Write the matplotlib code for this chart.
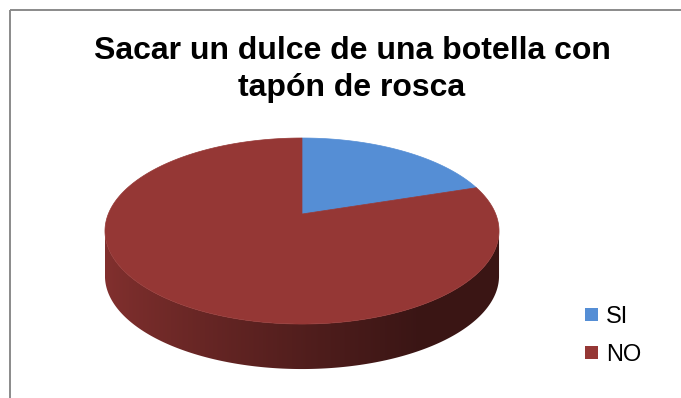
import numpy as np
import matplotlib
matplotlib.use('Agg')
import matplotlib.pyplot as plt
from matplotlib.patches import Polygon, Rectangle
from matplotlib.colors import to_rgb

plt.rcParams['font.family'] = ['Liberation Sans', 'DejaVu Sans']

# datos de la encuesta
titulo = ['Sacar un dulce de una botella con', 'tapón de rosca']
etiquetas = ['SI', 'NO']
valores = [20, 80]
colores = ['#558ED5', '#953735']

W, H = 681, 398
fig = plt.figure(figsize=(W / 100, H / 100), dpi=100)
ax = fig.add_axes([0, 0, 1, 1])
ax.set_xlim(0, W)
ax.set_ylim(H, 0)
ax.axis('off')

# pastel 3D en perspectiva (coordenadas en pixeles)
cx, cy = 302, 214
A, C, K = 193.7, 89.9, 0.183
grosor = 45


def borde(phi):
    r = np.radians(phi)
    w = 1 + K * np.sin(r)
    return cx + A * np.cos(r) / w, cy - C * np.sin(r) / w


total = float(sum(valores))
frac_acum = np.cumsum(valores) / total


def sector_de(phi):
    a = ((90 - phi) % 360) / 360.0
    return int(np.clip(np.searchsorted(frac_acum, a, side='right'), 0, len(valores) - 1))


# pared lateral visible (mitad frontal)
lim = np.degrees(np.arcsin(K))
phis = np.linspace(180 + lim, 360 - lim, 600)
xs, ys = borde(phis)
contorno = np.vstack([np.column_stack([xs, ys]),
                      np.column_stack([xs[::-1], ys[::-1] + grosor])])
pared = Polygon(contorno, closed=True, facecolor='none', edgecolor='none')
ax.add_patch(pared)

# degradado horizontal recortado a la pared
xcol = np.linspace(xs.min(), xs.max(), 500)
phi_col = np.interp(xcol, xs, phis)
t = np.clip((xcol - 106) / (420 - 106), 0, 1) ** 0.85
fila = np.array([np.array(to_rgb(colores[sector_de(p)])) * (0.87 - 0.48 * tt)
                 for p, tt in zip(phi_col, t)])
img = ax.imshow(fila[np.newaxis, :, :], extent=(xs.min(), xs.max(),
                ys.max() + grosor + 2, ys.min() - 2), aspect='auto',
                interpolation='bilinear', zorder=2)
img.set_clip_path(pared)

# cara superior
inicio = 90.0
for v, col in zip(valores, colores):
    barrido = 360.0 * v / total
    ang = np.linspace(inicio, inicio - barrido, 300)
    px, py = borde(ang)
    pts = np.vstack([[cx, cy], np.column_stack([px, py])])
    ax.add_patch(Polygon(pts, closed=True, facecolor=col, edgecolor=col,
                         lw=0.5, zorder=3))
    inicio -= barrido

ax.set_xlim(0, W)
ax.set_ylim(H, 0)

# titulo
ax.text(352, 59, titulo[0], ha='center', va='baseline', fontsize=23,
        fontweight='bold', color='black')
ax.text(352, 96, titulo[1], ha='center', va='baseline', fontsize=23,
        fontweight='bold', color='black')

# leyenda
for i, (lab, col) in enumerate(zip(etiquetas, colores)):
    yb = 323 + 38 * i
    ax.add_patch(Rectangle((585, yb - 15), 13, 13, facecolor=col,
                           edgecolor='none', zorder=4))
    ax.text(606, yb, lab, ha='left', va='baseline', fontsize=17, color='black')

# marco del grafico
ax.plot([10, 10], [H + 5, 10], color='#8a8a8a', lw=1.4, solid_capstyle='butt')
ax.plot([10, W + 5], [10, 10], color='#8a8a8a', lw=1.4, solid_capstyle='butt')

fig.savefig('out.png', dpi=100)
